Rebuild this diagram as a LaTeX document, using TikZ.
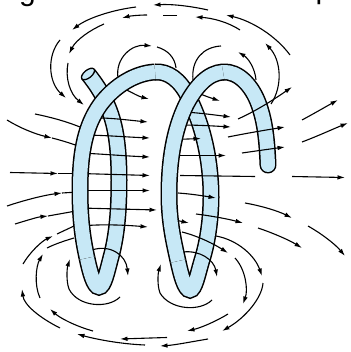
\documentclass[tikz,border=0pt]{standalone}
\usepackage{fontspec}
\newfontfamily\capfont{Liberation Sans}
\usetikzlibrary{arrows.meta}
\definecolor{tube}{RGB}{199,232,246}
% one piece of the coiled wire: dark outline stroke, then the light fill stroke
\newcommand\tubepiece[2][]{%
  \draw[wireedge,#1] #2;
  \draw[wirefill,#1] #2;}
\begin{document}
\begin{tikzpicture}[x=1pt,y=-1pt,
  wireedge/.style={line width=17pt, draw=black, line cap=butt},
  wirefill/.style={line width=14pt, draw=tube, line cap=butt},
  fl/.style={line width=1.1pt, -{Latex[length=7.5pt,width=4.6pt]}},
  fp/.style={line width=1.1pt},
]
\useasboundingbox (0,0) rectangle (350,352);
\clip (0,0) rectangle (350,352);

% caption letters cut by the top edge
\node[anchor=base west, inner sep=0pt, font=\capfont\fontsize{30}{30}\selectfont] (capg) at (19,0.3) {g};
\node[anchor=base west, inner sep=0pt, font=\capfont\fontsize{30}{30}\selectfont] (capp) at (315.5,-1) {p};

% ---------------- wire: rear parts ----------------
% free end, rear strand of the first turn and its lower bend
\tubepiece{(88,74) .. controls (96,84) and (106,98) .. (112,118)
  .. controls (116,131) and (119,150) .. (119,180)
  .. controls (119,210) and (117,235) .. (111,257)
  .. controls (107,272) and (104,287) .. (99,287)
  .. controls (94,287) and (90,272) .. (87,258)}
% first top arch going down behind, rear strand of the second turn
\tubepiece{(155,72) .. controls (168,71) and (180,80) .. (188,96)
  .. controls (197,113) and (207,140) .. (210,175)
  .. controls (213,205) and (209,238) .. (202,260)
  .. controls (198,273) and (195,290) .. (190,290)
  .. controls (185,290) and (181,275) .. (178,261)}
% last arch down to the rounded end
\tubepiece[line cap=round]{(223,72) .. controls (238,71) and (252,85) .. (259,105)
  .. controls (265,122) and (267,140) .. (268,165)}
% cut face of the free end
\filldraw[fill=tube, draw=black, line width=1.3pt, rotate around={38.7:(88,74)}]
  (88,74) ellipse [x radius=7.8pt, y radius=3.9pt];

% ---------------- field lines ----------------
% outer return lines over the top
\draw[fl] (290,55) .. controls (276,36) and (252,21) .. (226,15);
\draw[fl] (208,10) .. controls (190,6) and (172,4) .. (153,5);
\draw[fl] (136,7) .. controls (112,10) and (88,18) .. (72,30);
\draw[fl] (60,40) .. controls (47,55) and (48,82) .. (66,98);
\draw[fl] (240,30) .. controls (228,22) and (212,18) .. (195,17);
\draw[fp] (177,15.5) .. controls (172,15.5) and (168,15.5) .. (163,15.5);
\draw[fl] (147,15) .. controls (139,15) and (130,16) .. (122,18);
\draw[fl] (104,24) .. controls (90,30) and (76,40) .. (69,54);
\draw[fl] (68,63) .. controls (65,78) and (70,94) .. (84,105);

% small loops round the top arches
\draw[fl] (118,78) .. controls (115,58) and (132,44) .. (152,46);
\draw[fp] (157,47) .. controls (168,50) and (175,58) .. (176,68);
\draw[fl] (118,86) .. controls (128,90) and (137,96) .. (149,99);
\draw[fp] (193,80) .. controls (191,60) and (203,47) .. (221,46);
\draw[fl] (256,80) .. controls (255,68) and (248,58) .. (238,52);
\draw[fl] (198,93) .. controls (205,96) and (211,98) .. (220,101);
\draw[fl] (271,104) .. controls (283,86) and (281,60) .. (265,43);

% lines leaving on the right
\draw[fl] (238,119) .. controls (258,110) and (276,98) .. (292,87);
\draw[fl] (302,120) .. controls (315,113) and (327,106) .. (338,100);
\draw[fl] (302,142) .. controls (318,136) and (333,129) .. (348,123);
\draw[fl] (228,137) .. controls (248,133) and (266,130) .. (285,127);
\draw[fl] (242,153) .. controls (256,151) and (270,149) .. (285,147);
\draw[fp] (180,175.5) -- (255,176.5);
\draw[fl] (292,176.5) -- (345,177.5);
\draw[fl] (245,203) .. controls (262,206) and (278,211) .. (292,218);
\draw[fl] (258,228) .. controls (273,233) and (289,240) .. (302,248);
\draw[fl] (308,226) .. controls (322,234) and (335,244) .. (345,256);

% lines coming in from the left
\draw[fp] (35,114) .. controls (50,117) and (65,121) .. (80,127);
\draw[fl] (7,120) .. controls (20,128) and (35,134) .. (52,138);
\draw[fp] (52,138) .. controls (60,140) and (70,143) .. (78,146);
\draw[fl] (10,172.5) -- (58,173.5);
\draw[fp] (58,173.5) -- (78,173.5);
\draw[fl] (7,206) .. controls (25,200) and (45,195) .. (62,193);
\draw[fp] (62,193) -- (78,192);
\draw[fl] (15,224) .. controls (28,220) and (38,217) .. (48,216);
\draw[fp] (48,216) -- (76,211);

% lines inside the first turn
\draw[fl] (85,118) .. controls (105,117) and (127,120) .. (148,122);
\draw[fl] (80,135) .. controls (102,135) and (126,137) .. (150,138);
\draw[fl] (80,153) .. controls (102,154) and (126,156) .. (150,157);
\draw[fl] (80,173.5) -- (150,175.5);
\draw[fl] (80,190.5) -- (150,190.5);
\draw[fl] (80,208) -- (157,210);
\draw[fl] (82,226) .. controls (100,224) and (125,225) .. (148,227);

% lines inside the second turn
\draw[fl] (185,112) .. controls (200,113) and (215,115) .. (231,117);
\draw[fl] (180,125) .. controls (198,125) and (214,126) .. (231,127);
\draw[fl] (175,139.5) -- (201,138.5);
\draw[fl] (175,155.5) -- (226,155.5);
\draw[fl] (178,193) .. controls (192,194) and (204,196) .. (216,198);
\draw[fl] (175,220) -- (189,223);
\draw[fl] (196,214) .. controls (212,216) and (228,219) .. (243,223);
\draw[fl] (182,232) .. controls (198,236) and (214,244) .. (228,253);
\draw[fl] (216,236) .. controls (238,240) and (255,256) .. (262,276);
\draw[fl] (235,258) .. controls (246,270) and (248,290) .. (243,304);

% loops round the lower bends
\draw[fl] (120,297) .. controls (108,309) and (78,307) .. (69,289)
  .. controls (66,281) and (67,268) .. (70,259);
\draw[fl] (92,250) .. controls (110,244) and (126,255) .. (128,276);
\draw[fl] (212,300) .. controls (200,312) and (170,310) .. (160,293)
  .. controls (157,285) and (158,273) .. (161,264);
\draw[fl] (183,252) .. controls (200,250) and (214,260) .. (217,277);

% return lines under the coil
\draw[fl] (263,283) .. controls (262,298) and (245,318) .. (222,331);
\draw[fl] (208,339) .. controls (190,342) and (175,345) .. (160,346);
\draw[fl] (145,345) .. controls (120,344) and (95,339) .. (77,334);
\draw[fl] (60,328) .. controls (40,318) and (24,305) .. (22,289);
\draw[fl] (23,264) .. controls (30,252) and (42,241) .. (53,236);
\draw[fp] (57,234) -- (74,226);
\draw[fl] (228,314) .. controls (215,322) and (200,328) .. (187,331);
\draw[fl] (167,337.5) .. controls (150,338) and (135,338.5) .. (120,339);
\draw[fl] (93,331) .. controls (75,326) and (60,318) .. (50,309);
\draw[fl] (40,298) .. controls (34,285) and (36,266) .. (43,254);
\draw[fp] (47,248) .. controls (55,244) and (64,241) .. (74,238);

% ---------------- wire: front parts ----------------
\tubepiece{(87,258) .. controls (83,240) and (80,220) .. (80,190)
  .. controls (80,150) and (86,125) .. (100,105)
  .. controls (114,86) and (135,73) .. (155,72)}
\tubepiece{(178,261) .. controls (174,243) and (169,222) .. (169,195)
  .. controls (169,160) and (174,130) .. (186,105)
  .. controls (196,86) and (208,73) .. (223,72)}
\end{tikzpicture}
\end{document}
